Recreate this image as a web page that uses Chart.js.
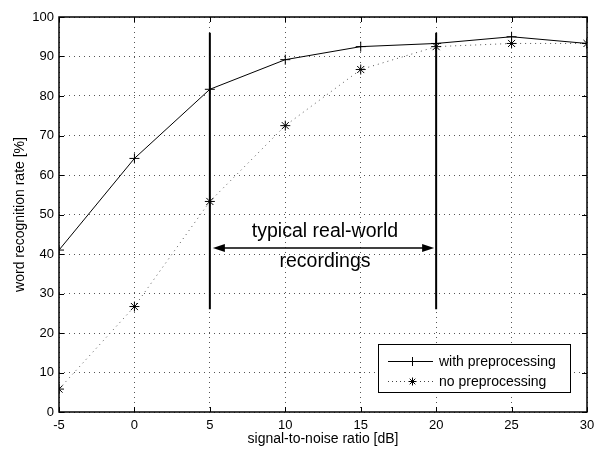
<!DOCTYPE html>
<html><head><meta charset="utf-8">
<script src="https://cdn.jsdelivr.net/npm/chart.js@4/dist/chart.umd.min.js"></script>
<style>html,body{margin:0;padding:0;background:#fff}#wrap{width:594px;height:449px}</style>
</head><body><div id="wrap"><canvas id="c" width="594" height="449"></canvas></div>
<script>
const snr = [-5, 0, 5, 10, 15, 20, 25, 30];
const withPre = [41, 64.2, 81.7, 89.2, 92.5, 93.3, 95, 93.3];
const noPre = [5.8, 26.7, 53.3, 72.5, 86.7, 92.5, 93.3, 93.3];
const xTicks = [-5, 0, 5, 10, 15, 20, 25, 30];
const yTicks = [0, 10, 20, 30, 40, 50, 60, 70, 80, 90, 100];
const rangeX = [5, 20];
const rangeY = [26, 96];
const arrowY = 41.5;
const annotation = ["typical real-world", "recordings"];
const legendLabels = ["with preprocessing", "no preprocessing"];
const xTitle = "signal-to-noise ratio [dB]";
const yTitle = "word recognition rate [%]";

const FONT = "'Liberation Sans', Arial, sans-serif";

const pts = (ys) => snr.map((x, i) => ({x, y: ys[i]}));

const overlay = {
  id: 'overlay',
  afterDraw(chart) {
    const {ctx, chartArea: a, scales: {x, y}} = chart;
    ctx.save();
    // inward ticks
    ctx.strokeStyle = '#000'; ctx.lineWidth = 1;
    ctx.beginPath();
    xTicks.forEach(v => {
      const px = Math.round(x.getPixelForValue(v)) + 0.5;
      ctx.moveTo(px, a.bottom); ctx.lineTo(px, a.bottom - 5);
      ctx.moveTo(px, a.top); ctx.lineTo(px, a.top + 5);
    });
    yTicks.forEach(v => {
      const py = Math.round(y.getPixelForValue(v)) + 0.5;
      ctx.moveTo(a.left, py); ctx.lineTo(a.left + 5, py);
      ctx.moveTo(a.right, py); ctx.lineTo(a.right - 5, py);
    });
    ctx.stroke();
    // box
    ctx.lineWidth = 1.5;
    ctx.strokeRect(a.left, a.top, a.right - a.left, a.bottom - a.top);
    // arrow
    const x1 = x.getPixelForValue(rangeX[0]) + 3, x2 = x.getPixelForValue(rangeX[1]) - 2;
    const ay = y.getPixelForValue(arrowY);
    ctx.lineWidth = 1.5;
    ctx.beginPath(); ctx.moveTo(x1 + 6, ay); ctx.lineTo(x2 - 6, ay); ctx.stroke();
    ctx.fillStyle = '#000';
    ctx.beginPath(); ctx.moveTo(x1, ay); ctx.lineTo(x1 + 12, ay - 4); ctx.lineTo(x1 + 12, ay + 4); ctx.closePath(); ctx.fill();
    ctx.beginPath(); ctx.moveTo(x2, ay); ctx.lineTo(x2 - 12, ay - 4); ctx.lineTo(x2 - 12, ay + 4); ctx.closePath(); ctx.fill();
    // annotation text
    ctx.font = '19.5px ' + FONT;
    ctx.textAlign = 'center'; ctx.textBaseline = 'middle';
    const cx = (x.getPixelForValue(rangeX[0]) + x.getPixelForValue(rangeX[1])) / 2 + 2;
    ctx.fillText(annotation[0], cx, ay - 16);
    ctx.fillText(annotation[1], cx, ay + 14);
    // legend
    const lx = 378, ly = 344, lw = 192, lh = 48;
    ctx.fillStyle = '#fff'; ctx.fillRect(lx, ly, lw, lh);
    ctx.lineWidth = 1; ctx.strokeStyle = '#000';
    ctx.strokeRect(lx + 0.5, ly + 0.5, lw, lh);
    ctx.font = '14px ' + FONT; ctx.textAlign = 'left'; ctx.fillStyle = '#000';
    const rows = [ly + 17, ly + 37];
    // row 1: solid line + cross
    ctx.beginPath(); ctx.moveTo(lx + 10, rows[0] + 0.5); ctx.lineTo(lx + 55, rows[0] + 0.5); ctx.stroke();
    ctx.beginPath(); ctx.moveTo(lx + 34.5, rows[0] - 4); ctx.lineTo(lx + 34.5, rows[0] + 5);
    ctx.moveTo(lx + 30, rows[0] + 0.5); ctx.lineTo(lx + 39, rows[0] + 0.5); ctx.stroke();
    ctx.fillText(legendLabels[0], lx + 61, rows[0] + 1);
    // row 2: dotted + star
    ctx.setLineDash([1, 3]); ctx.strokeStyle = '#444';
    ctx.beginPath(); ctx.moveTo(lx + 10, rows[1] + 0.5); ctx.lineTo(lx + 55, rows[1] + 0.5); ctx.stroke();
    ctx.setLineDash([]); ctx.strokeStyle = '#000';
    const sx = lx + 34.5, sy = rows[1] + 0.5, r = 4;
    ctx.fillStyle = '#fff'; ctx.fillRect(sx - 5, sy - 5, 10, 10); ctx.fillStyle = '#000';
    ctx.beginPath();
    ctx.moveTo(sx, sy - r); ctx.lineTo(sx, sy + r);
    ctx.moveTo(sx - r, sy); ctx.lineTo(sx + r, sy);
    ctx.moveTo(sx - r * 0.7, sy - r * 0.7); ctx.lineTo(sx + r * 0.7, sy + r * 0.7);
    ctx.moveTo(sx - r * 0.7, sy + r * 0.7); ctx.lineTo(sx + r * 0.7, sy - r * 0.7);
    ctx.stroke();
    ctx.fillText(legendLabels[1], lx + 61, rows[1] + 1);
    ctx.restore();
  }
};

new Chart(document.getElementById('c'), {
  type: 'scatter',
  data: {
    datasets: [
      {data: pts(withPre), showLine: true, borderColor: '#000', borderWidth: 1, pointStyle: 'cross', pointRadius: 5, pointBorderColor: '#000', pointBorderWidth: 1, order: 1},
      {data: pts(noPre), showLine: true, borderColor: '#555', borderWidth: 1, borderDash: [1, 4], pointStyle: 'star', pointRadius: 5, pointBorderColor: '#000', pointBorderWidth: 1, order: 2},
      {data: [{x: rangeX[0], y: rangeY[0]}, {x: rangeX[0], y: rangeY[1]}], showLine: true, borderColor: '#000', borderWidth: 2, pointRadius: 0},
      {data: [{x: rangeX[1], y: rangeY[0]}, {x: rangeX[1], y: rangeY[1]}], showLine: true, borderColor: '#000', borderWidth: 2, pointRadius: 0}
    ]
  },
  options: {
    responsive: false, animation: false,
    layout: {padding: {top: 17, right: 7, left: 10, bottom: 0}},
    plugins: {legend: {display: false}, tooltip: {enabled: false}},
    scales: {
      x: {
        type: 'linear', min: -5, max: 30,
        afterBuildTicks: s => { s.ticks = xTicks.map(v => ({value: v})); },
        afterFit: s => { s.height = 37; s.paddingLeft = 0; s.paddingRight = 0; },
        grid: {color: '#555', drawTicks: false},
        border: {display: false, dash: [1, 4]},
        ticks: {color: '#000', font: {family: FONT, size: 13}, padding: 6, maxRotation: 0},
        title: {display: true, text: xTitle, color: '#000', font: {family: FONT, size: 14}, padding: {top: 0, bottom: 1}}
      },
      y: {
        min: 0, max: 100,
        afterBuildTicks: s => { s.ticks = yTicks.map(v => ({value: v})); },
        afterFit: s => { s.width = 49; s.paddingTop = 0; s.paddingBottom = 0; },
        grid: {color: '#555', drawTicks: false},
        border: {display: false, dash: [1, 4]},
        ticks: {color: '#000', font: {family: FONT, size: 13}, padding: 5},
        title: {display: true, text: yTitle, color: '#000', font: {family: FONT, size: 14}, padding: {top: 2, bottom: 0}}
      }
    }
  },
  plugins: [overlay]
});
</script></body></html>
